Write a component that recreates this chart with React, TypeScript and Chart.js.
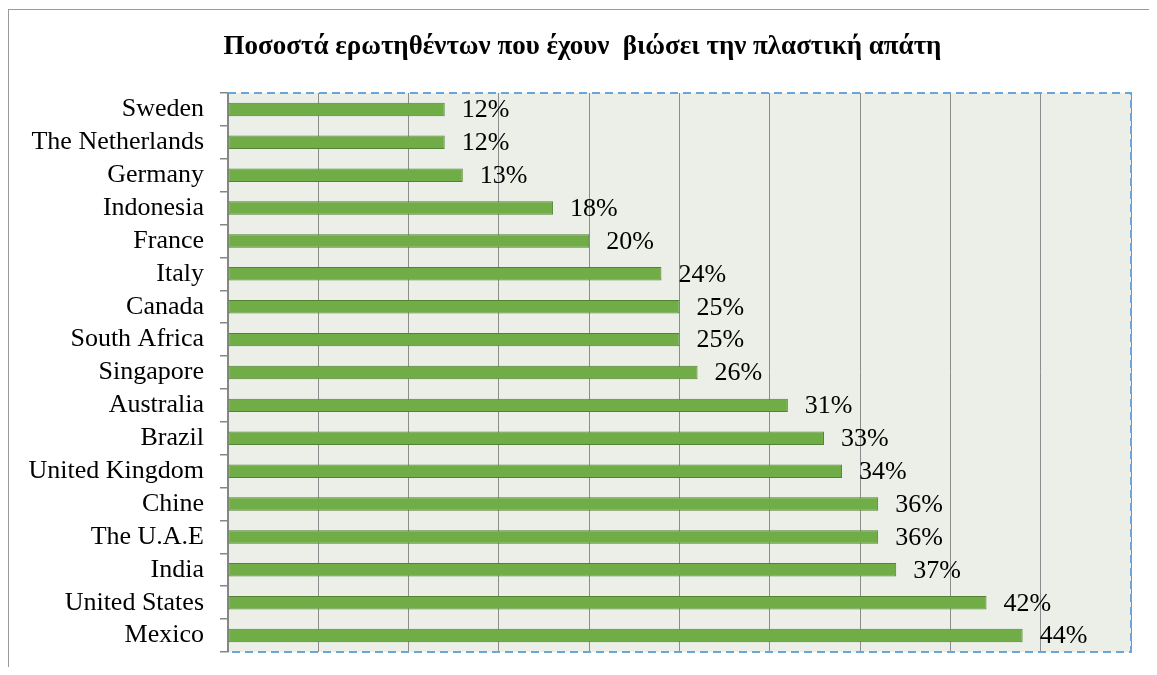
import React, { useEffect, useRef } from "react";
import { Chart, registerables } from "chart.js";

Chart.register(...registerables);

const categories = [
  "Sweden",
  "The Netherlands",
  "Germany",
  "Indonesia",
  "France",
  "Italy",
  "Canada",
  "South Africa",
  "Singapore",
  "Australia",
  "Brazil",
  "United Kingdom",
  "Chine",
  "The U.A.E",
  "India",
  "United States",
  "Mexico",
];

const values = [12, 12, 13, 18, 20, 24, 25, 25, 26, 31, 33, 34, 36, 36, 37, 42, 44];

const titleText = "Ποσοστά ερωτηθέντων που έχουν  βιώσει την πλαστική απάτη";

const FONT = '"Liberation Serif", "Times New Roman", serif';

export default function App() {
  const ref = useRef<HTMLCanvasElement | null>(null);

  useEffect(() => {
    document.body.style.overflow = "hidden";
    const canvas = ref.current;
    if (!canvas) return;

    const areaPlugin = {
      id: "areaPlugin",
      beforeDraw(chart: any) {
        const { ctx, chartArea } = chart;
        ctx.save();
        ctx.fillStyle = "#EBEFE8";
        ctx.fillRect(chartArea.left, chartArea.top, chartArea.right - chartArea.left, chartArea.bottom - chartArea.top);
        ctx.font = `bold 27px ${FONT}`;
        ctx.fillStyle = "#000";
        ctx.textAlign = "center";
        ctx.textBaseline = "middle";
        ctx.fillText(titleText, chart.width / 2, 39);
        ctx.restore();
      },
      afterDatasetsDraw(chart: any) {
        const { ctx } = chart;
        const meta = chart.getDatasetMeta(0);
        ctx.save();
        ctx.font = `26px ${FONT}`;
        ctx.fillStyle = "#000";
        ctx.textAlign = "left";
        ctx.textBaseline = "middle";
        meta.data.forEach((bar: any, i: number) => {
          ctx.fillText(`${values[i]}%`, bar.x + 17, bar.y + 1);
        });
        ctx.restore();
      },
      afterDraw(chart: any) {
        const { ctx, chartArea } = chart;
        ctx.save();
        ctx.strokeStyle = "#6AA6DA";
        ctx.lineWidth = 2;
        ctx.setLineDash([8, 5]);
        ctx.beginPath();
        ctx.moveTo(chartArea.left, chartArea.top);
        ctx.lineTo(chartArea.right, chartArea.top);
        ctx.lineTo(chartArea.right, chartArea.bottom);
        ctx.lineTo(chartArea.left, chartArea.bottom);
        ctx.stroke();
        ctx.restore();
      },
    };

    const chart = new Chart(canvas, {
      type: "bar",
      data: {
        labels: categories,
        datasets: [
          {
            data: values,
            backgroundColor: "#70AD47",
            borderColor: "#548235",
            borderWidth: 1,
            borderSkipped: false,
            barPercentage: 0.41,
            categoryPercentage: 1,
          },
        ],
      },
      options: {
        indexAxis: "y",
        responsive: false,
        animation: false,
        devicePixelRatio: 1,
        layout: { padding: { left: 0, right: 26, top: 85, bottom: 23 } },
        plugins: {
          legend: { display: false },
          tooltip: { enabled: false },
          title: { display: false },
        },
        scales: {
          x: {
            min: 0,
            max: 50,
            ticks: { display: false, stepSize: 5 },
            grid: { color: "#8C8C8C", lineWidth: 1, drawTicks: false },
            border: { display: false },
            afterFit(scale: any) {
              scale.height = 0;
              scale.paddingLeft = 0;
              scale.paddingRight = 0;
            },
          },
          y: {
            ticks: {
              color: "#000",
              font: { family: FONT, size: 26 },
              padding: 16,
              autoSkip: false,
            },
            grid: {
              drawOnChartArea: false,
              drawTicks: true,
              tickLength: 8,
              color: "#868686",
              lineWidth: 1.5,
              offset: true,
            },
            border: { display: true, color: "#868686", width: 2 },
            afterFit(scale: any) {
              scale.width = 220;
              scale.paddingTop = 0;
              scale.paddingBottom = 0;
            },
          },
        },
      },
      plugins: [areaPlugin],
    } as any);

    return () => chart.destroy();
  }, []);

  return (
    <div style={{ position: "relative", width: 1149, height: 667, overflow: "hidden", marginBottom: -8 }}>
      <div
        style={{
          position: "absolute",
          left: 0,
          top: 1,
          width: 2000,
          height: 2000,
          border: "1px solid #9A9A9A",
          boxSizing: "border-box",
        }}
      />
      <canvas ref={ref} width={1149} height={667} style={{ position: "absolute", left: 0, top: 0, width: 1149, height: 667 }} />
    </div>
  );
}
